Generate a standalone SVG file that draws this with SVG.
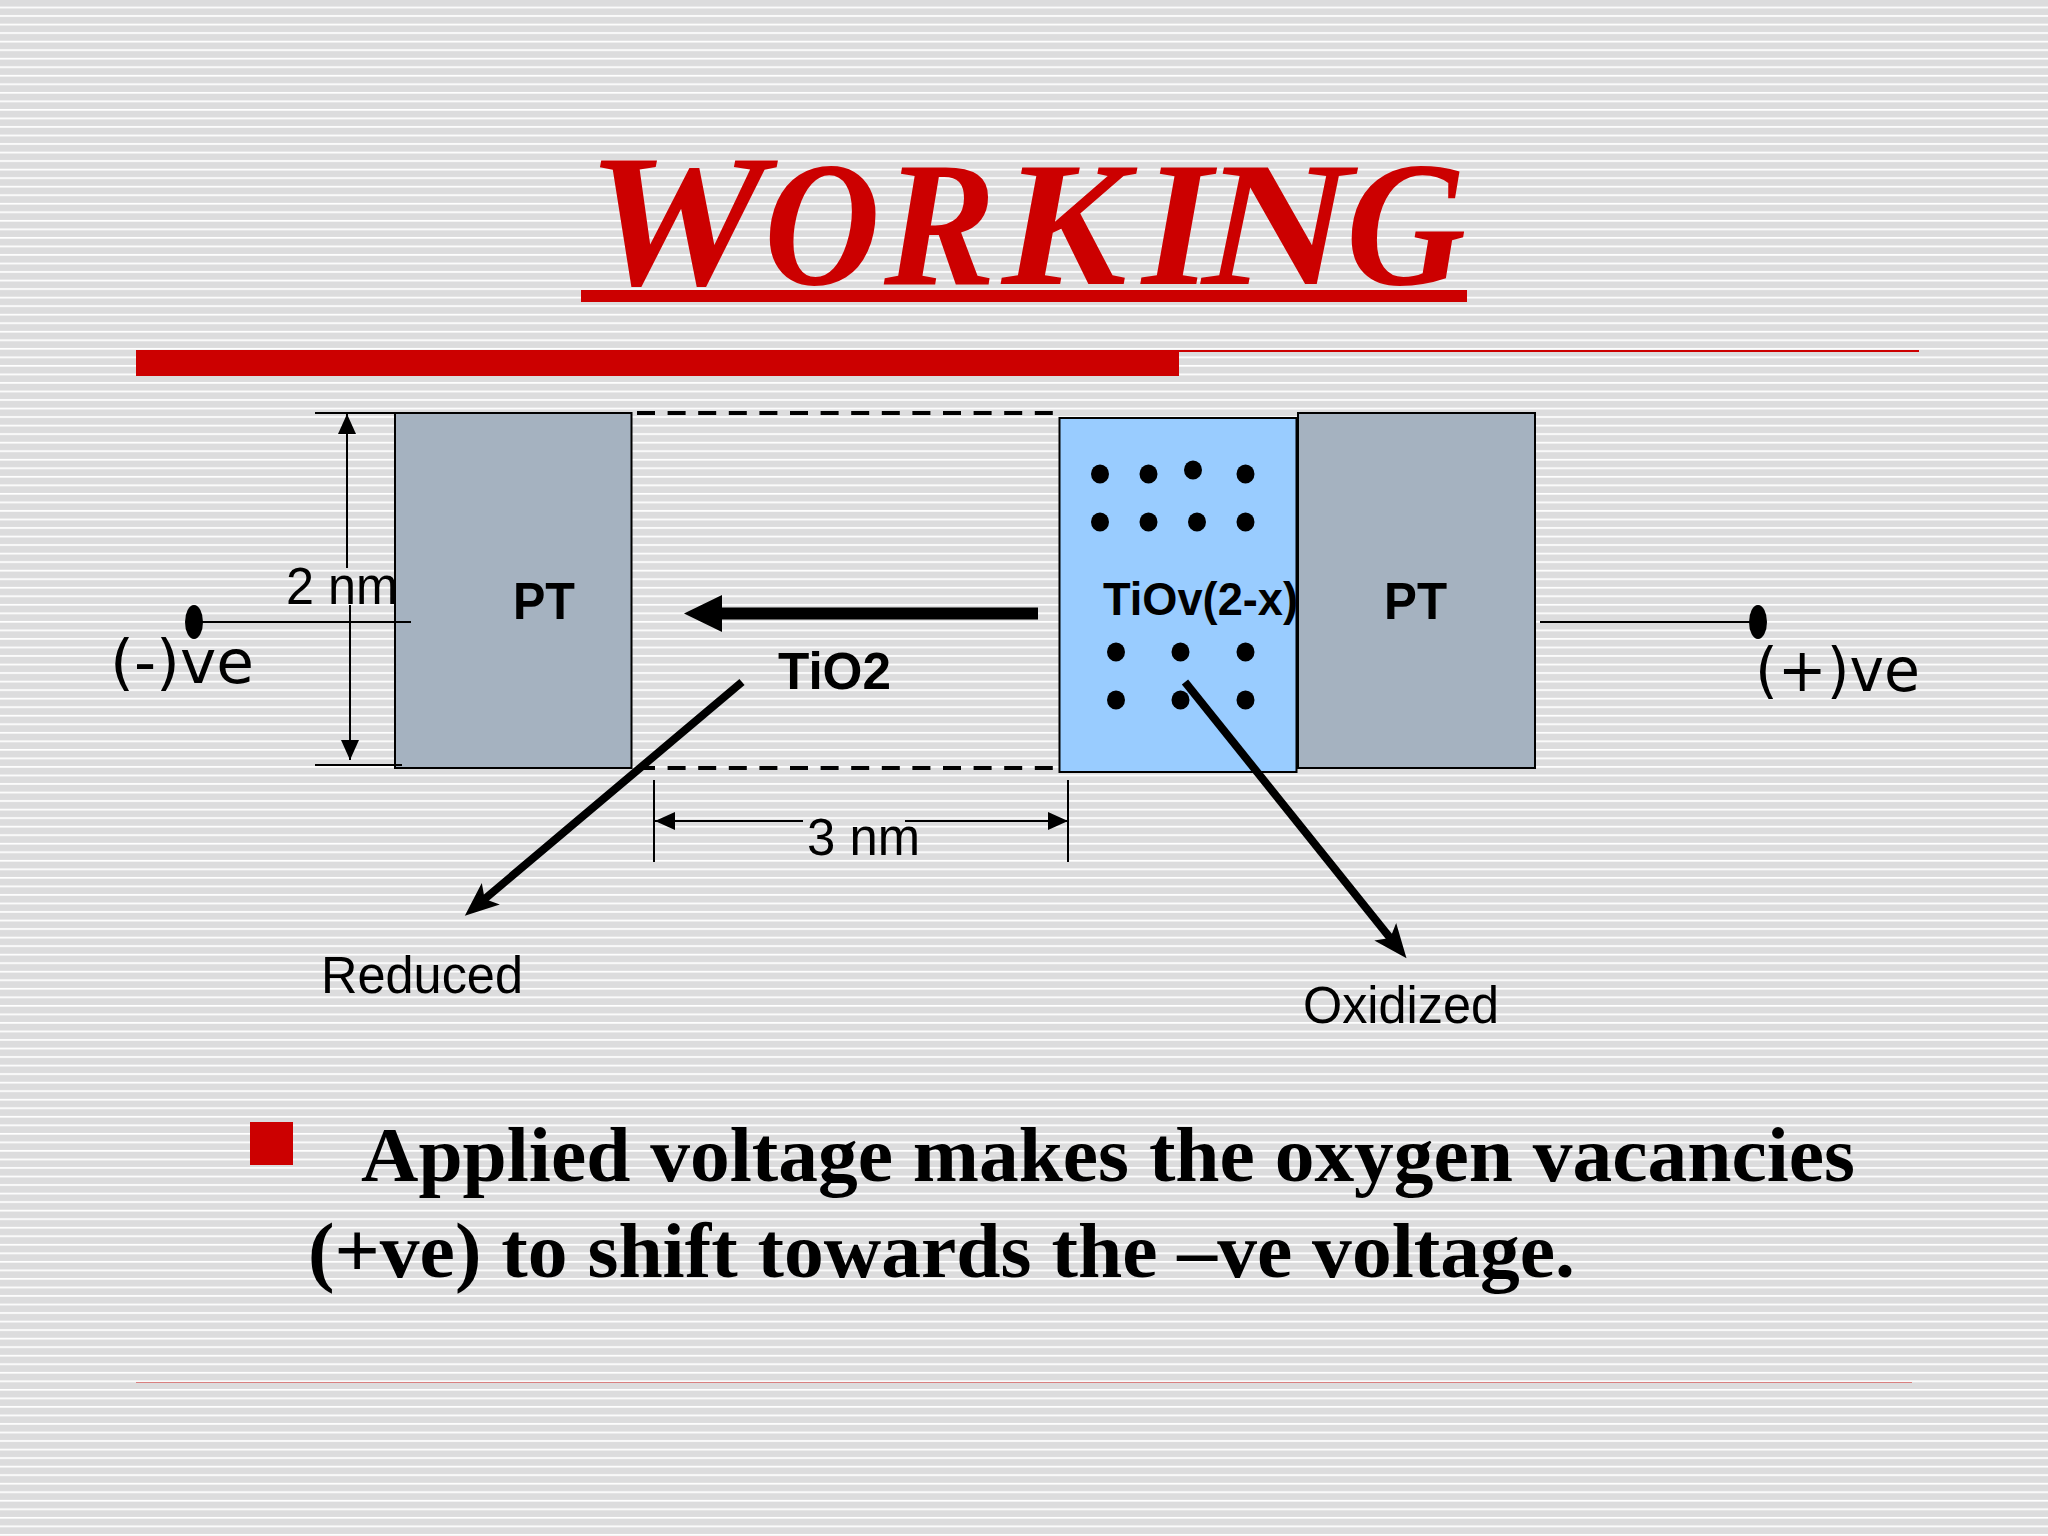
<svg xmlns="http://www.w3.org/2000/svg" width="2048" height="1536" viewBox="0 0 2048 1536">
<style>
.s{font-family:"Liberation Sans",Arial,sans-serif;fill:#000;font-size:51px}
.b{font-weight:bold}
.d{font-family:"DejaVu Sans",sans-serif;fill:#000;font-size:60px}
.t{font-family:"Liberation Serif","Times New Roman",serif;font-weight:bold;fill:#000;font-size:78px}
.pt{fill:#a5b2c0;stroke:#000;stroke-width:2}
.l{stroke:#000;stroke-width:2;fill:none}
.h{stroke:#000;stroke-width:8;fill:none}
.dash{stroke:#000;stroke-width:4;stroke-dasharray:18 12.6;fill:none}
.dot{fill:#000;rx:9px;ry:9.5px}
</style>
<defs>
<pattern id="bg" patternUnits="userSpaceOnUse" width="16" height="8.533">
<rect width="16" height="8.533" fill="#dcdcdd"/>
<rect y="6.6" width="16" height="1.7" fill="#ffffff"/>
</pattern>
<marker id="a1" markerUnits="userSpaceOnUse" markerWidth="20" markerHeight="18" refX="20" refY="9" orient="auto"><path d="M0 0L20 9L0 18z" fill="#000"/></marker>
<marker id="a2" markerUnits="userSpaceOnUse" markerWidth="36" markerHeight="30" refX="22" refY="14" orient="auto"><path d="M0 0L34 14L0 28L8 14z" fill="#000"/></marker>
</defs>
<rect width="2048" height="1536" fill="url(#bg)"/>
<g id="title">
<text transform="translate(594,284) scale(1,1.18)" font-family="'Liberation Serif',serif" font-weight="bold" font-style="italic" font-size="150" fill="#cc0000"><tspan x="-8" font-size="160" textLength="180" lengthAdjust="spacingAndGlyphs">W</tspan><tspan x="170" textLength="116" lengthAdjust="spacingAndGlyphs">O</tspan><tspan x="290" textLength="112" lengthAdjust="spacingAndGlyphs">R</tspan><tspan x="408" textLength="125" lengthAdjust="spacingAndGlyphs">K</tspan><tspan x="548" textLength="70" lengthAdjust="spacingAndGlyphs">I</tspan><tspan x="608" textLength="150" lengthAdjust="spacingAndGlyphs">N</tspan><tspan x="752" textLength="120" lengthAdjust="spacingAndGlyphs">G</tspan></text>
<rect x="581" y="290" width="886" height="12" fill="#cc0000"/>
</g>
<g id="rule">
<rect x="136" y="350" width="1043" height="26" fill="#cc0000"/>
<rect x="1179" y="350" width="740" height="2" fill="#cc0000"/>
<rect x="136" y="1382" width="1776" height="1" fill="#d98080"/>
</g>
<g id="pt-left"><rect class="pt" x="395" y="413" width="236.500" height="355"/><text class="s b" x="513" y="619" textLength="62" lengthAdjust="spacingAndGlyphs">PT</text></g>
<g id="tiov"><rect x="1059.500" y="418" width="237" height="354" fill="#99ccff" stroke="#000" stroke-width="2"/>
<ellipse class="dot" cx="1100" cy="474"/><ellipse class="dot" cx="1148.500" cy="474"/><ellipse class="dot" cx="1193" cy="470"/><ellipse class="dot" cx="1245.500" cy="474"/>
<ellipse class="dot" cx="1100" cy="522"/><ellipse class="dot" cx="1148.500" cy="522"/><ellipse class="dot" cx="1197" cy="522"/><ellipse class="dot" cx="1245.500" cy="522"/>
<ellipse class="dot" cx="1116" cy="652"/><ellipse class="dot" cx="1180.500" cy="652"/><ellipse class="dot" cx="1245.500" cy="652"/>
<ellipse class="dot" cx="1116" cy="700"/><ellipse class="dot" cx="1180.500" cy="700"/><ellipse class="dot" cx="1245.500" cy="700"/>
<text class="s b" x="1103" y="615" style="font-size:46px" textLength="195" lengthAdjust="spacingAndGlyphs">TiOv(2-x)</text></g>
<g id="pt-right"><rect class="pt" x="1298" y="413" width="237" height="355"/><text class="s b" x="1384" y="619" textLength="63" lengthAdjust="spacingAndGlyphs">PT</text></g>
<g id="connectors">
<path class="dash" d="M637 413H1056"/>
<path class="dash" d="M637 768H1056"/>
<path class="l" d="M315 413H395"/>
<path class="l" d="M315 765H402"/>
<path class="l" d="M347 568V414" marker-end="url(#a1)"/>
<path class="l" d="M350 605V760" marker-end="url(#a1)"/>
<path class="l" d="M200 622H411"/>
<path class="l" d="M1540 622H1757"/>
<path class="l" d="M654 780V862"/>
<path class="l" d="M1068 780V862"/>
<path class="l" d="M803 821H655" marker-end="url(#a1)"/>
<path class="l" d="M905 821H1068" marker-end="url(#a1)"/>
<path d="M1038 613.500H715" stroke="#000" stroke-width="12" fill="none"/>
<path d="M684 613.500L722 595V632z" fill="#000"/>
<path class="h" d="M742 682L474 908" marker-end="url(#a2)"/>
<path class="h" d="M1185 682L1399 949" marker-end="url(#a2)"/>
</g>
<g id="term-neg"><ellipse cx="194" cy="622" rx="9" ry="17" fill="#000"/><text class="d" x="110" y="683" textLength="144" lengthAdjust="spacingAndGlyphs">(-)ve</text></g>
<g id="term-pos"><ellipse cx="1758" cy="622" rx="9" ry="17" fill="#000"/><text class="d" x="1755" y="691" textLength="165" lengthAdjust="spacingAndGlyphs">(+)ve</text></g>
<g id="labels">
<text class="s" x="286" y="604" textLength="112" lengthAdjust="spacingAndGlyphs">2 nm</text>
<text class="s" x="807" y="855" textLength="113" lengthAdjust="spacingAndGlyphs">3 nm</text>
<text class="s b" x="778" y="689" textLength="113" lengthAdjust="spacingAndGlyphs">TiO2</text>
<text class="s" x="321" y="993" textLength="202" lengthAdjust="spacingAndGlyphs">Reduced</text>
<text class="s" x="1303" y="1023" textLength="196" lengthAdjust="spacingAndGlyphs">Oxidized</text>
</g>
<g id="bullet">
<rect x="250" y="1122" width="43" height="43" fill="#cc0000"/>
<text class="t" x="361" y="1181" textLength="1494" lengthAdjust="spacingAndGlyphs">Applied voltage makes the oxygen vacancies</text>
<text class="t" x="308" y="1277" textLength="1267" lengthAdjust="spacingAndGlyphs">(+ve) to shift towards the –ve voltage.</text>
</g>
</svg>
